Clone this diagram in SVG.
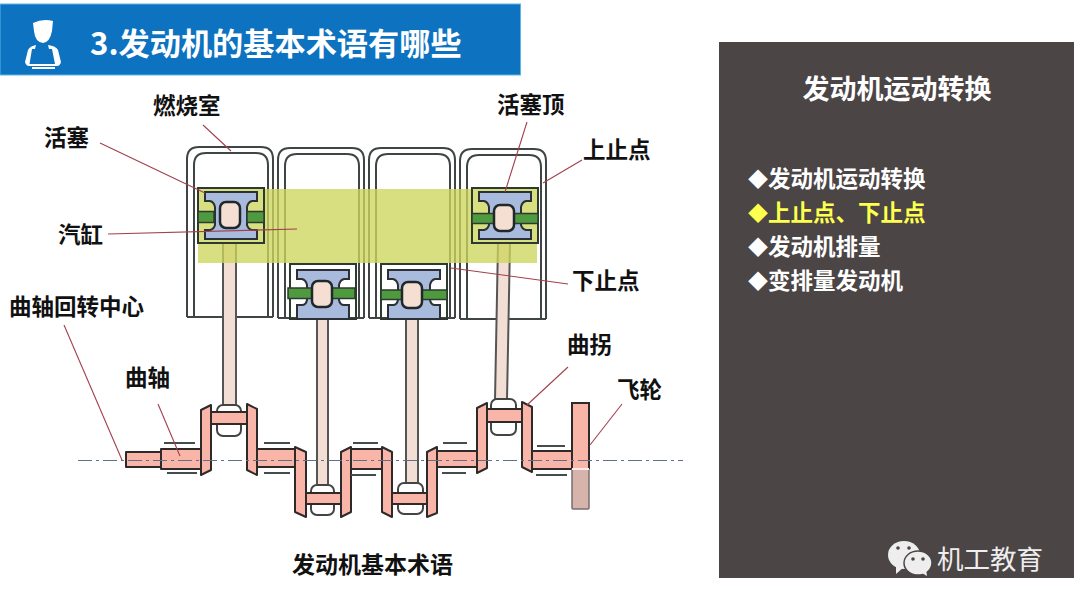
<svg xmlns="http://www.w3.org/2000/svg" width="1080" height="608" viewBox="0 0 1080 608">
<style>
text{font-family:"Noto Sans CJK SC","Liberation Sans",sans-serif}
.lb{font-size:22.5px;font-weight:700;fill:#111}
.li{font-size:22.5px;font-weight:700;fill:#fff}
.di{font-size:20px}
.ld{fill:none;stroke:#a2404e;stroke-width:1.1}
.cyl{fill:none;stroke:#3f4545;stroke-width:2}
.rod{fill:#f3ded5;stroke:#555;stroke-width:2}
.cr{fill:#f8b5a8;stroke:#2f2a2a;stroke-width:2;stroke-linejoin:round}
.cap{fill:#fff;stroke:#444;stroke-width:2}
.br{stroke:#444c4c;stroke-width:2;fill:none}
.ring{fill:#4f9a3e;stroke:#2c3a30;stroke-width:1.5}
</style>
<defs>
<g id="piston-body">
<rect x="0" y="0" width="66" height="55" fill="none" stroke="#2c3a30" stroke-width="2"/>
<path d="M7 4H59V13H54Q50 14 49 19V37Q50 41 54 42H59V51H7V42H12Q16 41 17 37V19Q16 14 12 13H7Z" fill="#a9bbdc" stroke="#2a3036" stroke-width="2"/>
</g>
<g id="piston-body-low">
<path d="M0 55V0H66V55Z" fill="none" stroke="#2c3a30" stroke-width="2"/>
<path d="M7 6H59V15H54Q50 16 49 21V36Q50 41 54 41H59V55H7V41H12Q16 41 17 36V21Q16 16 12 15H7Z" fill="#a9bbdc" stroke="#2a3036" stroke-width="2"/>
</g>
<g id="cylinder">
<path class="cyl" d="M0 170V12Q0 0 12 0H74Q86 0 86 12V170"/>
<path class="cyl" d="M7 170V18Q7 6 19 6H69Q81 6 81 18V170"/>
<path class="cyl" d="M0 170H86"/>
</g>
<rect id="pin" x="23" y="15" width="20" height="26" rx="6" fill="#f5ded2" stroke="#20282c" stroke-width="2.5"/>
</defs>
<rect width="1080" height="608" fill="#fff"/>
<g id="title-bar">
<rect x="0" y="4" width="520.500" height="71" fill="#0d72c0" stroke="#5fb4e6" stroke-width="1"/>
<path d="M33 23Q43 18 53 21L52 31Q50 42 43 43Q35 42 34 31Z" fill="#fff"/>
<path d="M25 62L28 50Q30 46 36 45L35 49H32L29.500 64H55L52 49H49L48 45Q56 46 58 50L61 62Q60 66 57 66H29Q26 66 25 62Z" fill="#fff"/>
<rect x="32" y="67" width="23" height="2" fill="#fff"/>
<text x="90" y="55" font-size="31.200" font-weight="700" fill="#fff">3.发动机的基本术语有哪些</text>
</g>
<g id="cylinders">
<use href="#cylinder" x="187" y="147"/>
<use href="#cylinder" x="278" y="148"/>
<use href="#cylinder" x="369" y="148"/>
<use href="#cylinder" x="460" y="149"/>
</g>
<g id="rods">
<rect class="rod" x="223" y="243" width="13" height="163"/>
<rect class="rod" x="317" y="319" width="11" height="167"/>
<rect class="rod" x="406" y="319" width="12" height="165"/>
<path class="rod" d="M498 243H510L507 400H495Z"/>
</g>
<rect id="stroke-band" x="198" y="189" width="339" height="74" fill="#cdd65c" opacity=".78"/>
<g id="piston-1">
<use href="#piston-body" x="198" y="188"/>
<rect class="ring" x="198" y="211.500" width="16" height="11"/>
<rect class="ring" x="247" y="211.500" width="17" height="11"/>
<use href="#pin" x="197" y="187"/>
</g>
<g id="piston-2">
<use href="#piston-body-low" x="290" y="264"/>
<rect class="ring" x="288" y="288" width="24" height="10.500"/>
<rect class="ring" x="331" y="288" width="24" height="10.500"/>
<use href="#pin" x="289" y="266"/>
</g>
<g id="piston-3">
<use href="#piston-body-low" x="381" y="264"/>
<rect class="ring" x="381" y="290" width="21" height="9.500"/>
<rect class="ring" x="422" y="290" width="25" height="9.500"/>
<use href="#pin" x="379" y="267"/>
</g>
<g id="piston-4">
<use href="#piston-body" x="472" y="188"/>
<rect class="ring" x="472" y="213.500" width="22" height="10"/>
<rect class="ring" x="514" y="213.500" width="24" height="10"/>
<use href="#pin" x="471" y="190"/>
</g>
<g id="crankshaft">
<rect class="cap" x="217" y="405" width="24" height="31" rx="6"/>
<rect class="cap" x="311" y="485" width="23" height="30" rx="6"/>
<rect class="cap" x="398" y="483" width="25" height="31" rx="6"/>
<rect class="cap" x="491" y="399" width="25" height="36" rx="6"/>
<rect class="cr" x="126" y="452" width="35" height="15"/>
<rect class="cr" x="161" y="449" width="40" height="20"/>
<rect class="cr" x="211" y="412" width="36" height="12"/>
<rect class="cr" x="257" y="449" width="39" height="18"/>
<rect class="cr" x="306" y="493" width="35" height="11"/>
<rect class="cr" x="351" y="449" width="31" height="20"/>
<rect class="cr" x="392" y="493" width="35" height="11"/>
<rect class="cr" x="437" y="451" width="40" height="16"/>
<rect class="cr" x="487" y="409" width="35" height="13"/>
<rect class="cr" x="531" y="451" width="41" height="18"/>
<polygon class="cr" points="201,410 211,405 211,470 201,475"/>
<polygon class="cr" points="247,404 257,409 257,475 247,470"/>
<polygon class="cr" points="295,447 306,452 306,517 295,512"/>
<polygon class="cr" points="341,452 351,447 351,512 341,517"/>
<polygon class="cr" points="382,447 392,452 392,517 382,512"/>
<polygon class="cr" points="427,452 437,447 437,513 427,517"/>
<polygon class="cr" points="477,408 487,403 487,468 477,473"/>
<polygon class="cr" points="522,402 532,407 532,472 522,467"/>
</g>
<g id="flywheel">
<rect x="572" y="403" width="17" height="106" rx="1" fill="#d6b3ab" stroke="#7a6e6e" stroke-width="1.5"/>
<path d="M572 469V403H589V469" fill="#f8b5a8" stroke="#2f2a2a" stroke-width="2"/>
<rect x="572" y="468" width="17" height="2" fill="#fbeeea"/>
</g>
<g id="bearings">
<path class="br" d="M164 443H195M167 473H197M264 443H290M264 473H290M353 443H378M351 475H376M443 443H467M442 473H466M537 446H565M536 475H567"/>
</g>
<path id="centerline" d="M78 460.500H683" fill="none" stroke="#5f7088" stroke-width="1" stroke-dasharray="14 4 3 4"/>
<g id="connectors">
<path class="ld" d="M203 125L231 151"/>
<path class="ld" d="M100 143L205 193"/>
<path class="ld" d="M108 234L297 229"/>
<path class="ld" d="M527 122L505 192"/>
<path class="ld" d="M582 160L543 183"/>
<path class="ld" d="M568 284L451 268"/>
<path class="ld" d="M64 325L122 460"/>
<path class="ld" d="M158 404L180 456"/>
<path class="ld" d="M568 367L527 405"/>
<path class="ld" d="M622 404L590 445"/>
</g>
<g id="labels">
<text class="lb" x="153" y="114">燃烧室</text>
<text class="lb" x="44" y="146">活塞</text>
<text class="lb" x="497" y="113">活塞顶</text>
<text class="lb" x="583" y="158">上止点</text>
<text class="lb" x="58" y="243">汽缸</text>
<text class="lb" x="572" y="289">下止点</text>
<text class="lb" x="9" y="315">曲轴回转中心</text>
<text class="lb" x="125" y="386">曲轴</text>
<text class="lb" x="567" y="353">曲拐</text>
<text class="lb" x="617" y="398">飞轮</text>
<text x="292" y="573" font-size="23" font-weight="700" fill="#111">发动机基本术语</text>
</g>
<g id="panel">
<rect x="719" y="42" width="355" height="536" fill="#4b4546"/>
<text x="897" y="99" text-anchor="middle" font-size="27" font-weight="700" fill="#fff">发动机运动转换</text>
<text class="li" x="748" y="187"><tspan class="di">◆</tspan>发动机运动转换</text>
<text class="li" x="748" y="221" style="fill:#ffff4d"><tspan class="di">◆</tspan>上止点、下止点</text>
<text class="li" x="748" y="255"><tspan class="di">◆</tspan>发动机排量</text>
<text class="li" x="748" y="289"><tspan class="di">◆</tspan>变排量发动机</text>
</g>
<g id="watermark">
<ellipse cx="904" cy="555" rx="16" ry="14" fill="#eee"/>
<path d="M896 565L896 574L904 567Z" fill="#eee"/>
<ellipse cx="918" cy="563" rx="14" ry="12" fill="#eee" stroke="#4b4546" stroke-width="1.5"/>
<path d="M922 573L927 576L926 569Z" fill="#eee"/>
<circle cx="898" cy="548" r="1.8" fill="#4b4546"/>
<circle cx="909" cy="548" r="1.8" fill="#4b4546"/>
<circle cx="913" cy="559" r="1.8" fill="#4b4546"/>
<circle cx="923" cy="559" r="1.8" fill="#4b4546"/>
<text x="937" y="569" font-size="26.500" fill="#eee">机工教育</text>
</g>
</svg>
